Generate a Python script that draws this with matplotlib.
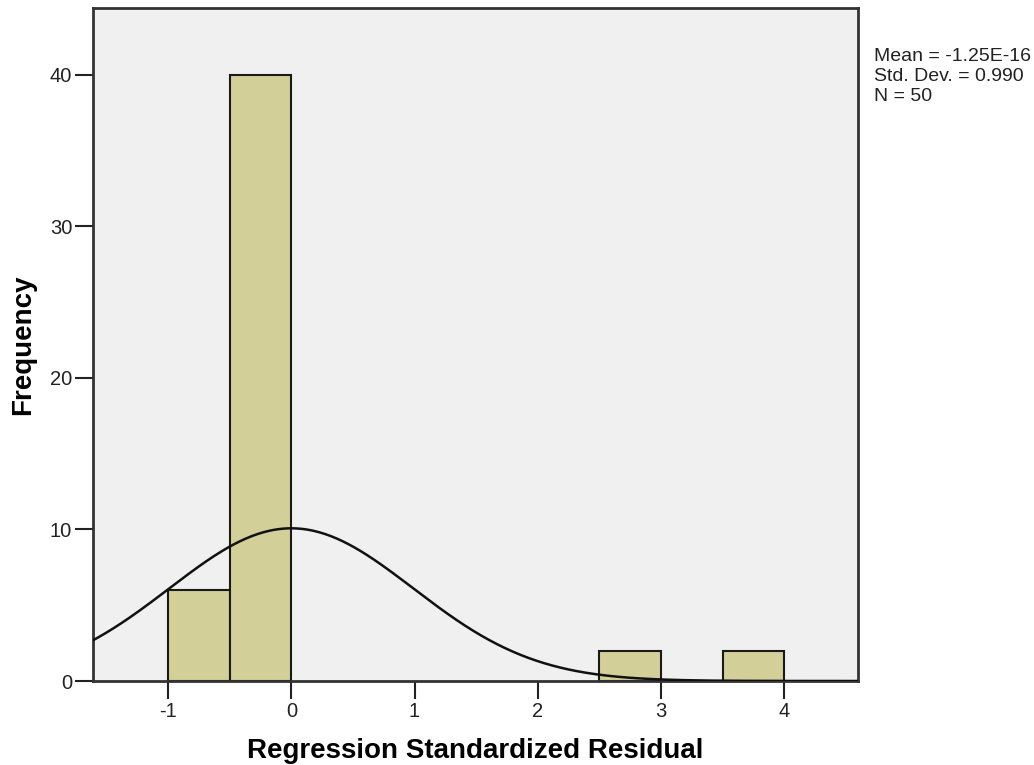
import numpy as np
import matplotlib.pyplot as plt

# histogram bins and counts
bin_edges = [-1.0, -0.5, 0.0, 0.5, 1.0, 1.5, 2.0, 2.5, 3.0, 3.5, 4.0]
counts = [6, 40, 0, 0, 0, 0, 0, 2, 0, 2]

mean = -1.25e-16
std_dev = 0.990
n = 50
bin_width = 0.5

plt.rcParams['font.family'] = ['Liberation Sans', 'DejaVu Sans']
plt.rcParams['axes.unicode_minus'] = False

fig = plt.figure(figsize=(10.34, 7.65), dpi=100)
ax = fig.add_axes([0.0899, 0.1098, 0.74, 0.8797])
ax.set_facecolor('#f0f0f0')

lefts = np.array(bin_edges[:-1])
heights = np.array(counts)
mask = heights > 0
ax.bar(lefts[mask], heights[mask], width=bin_width, align='edge',
       color='#d3cf98', edgecolor='#1a1a1a', linewidth=1.5, zorder=2)

# normal curve scaled to counts
xs = np.linspace(-1.7, 4.7, 400)
ys = n * bin_width / (std_dev * np.sqrt(2 * np.pi)) * np.exp(-0.5 * ((xs - mean) / std_dev) ** 2)
ax.plot(xs, ys, color='#111111', linewidth=1.8, zorder=3)

ax.set_xlim(-1.61, 4.60)
ax.set_ylim(0, 44.4)
ax.set_xticks([-1, 0, 1, 2, 3, 4])
ax.set_yticks([0, 10, 20, 30, 40])
ax.tick_params(direction='out', length=13, width=1.5, labelsize=14.5, colors='#222222', pad=2)
for s in ax.spines.values():
    s.set_linewidth(2)
    s.set_color('#333333')

ax.set_xlabel('Regression Standardized Residual', fontsize=20, fontweight='bold', labelpad=12)
ax.set_ylabel('Frequency', fontsize=20, fontweight='bold', labelpad=10)

fig.text(0.845, 0.937, 'Mean = -1.25E-16\nStd. Dev. = 0.990\nN = 50',
         fontsize=14, va='top', ha='left', linespacing=1.22, color='#222222')

fig.savefig('out.png', dpi=100)
